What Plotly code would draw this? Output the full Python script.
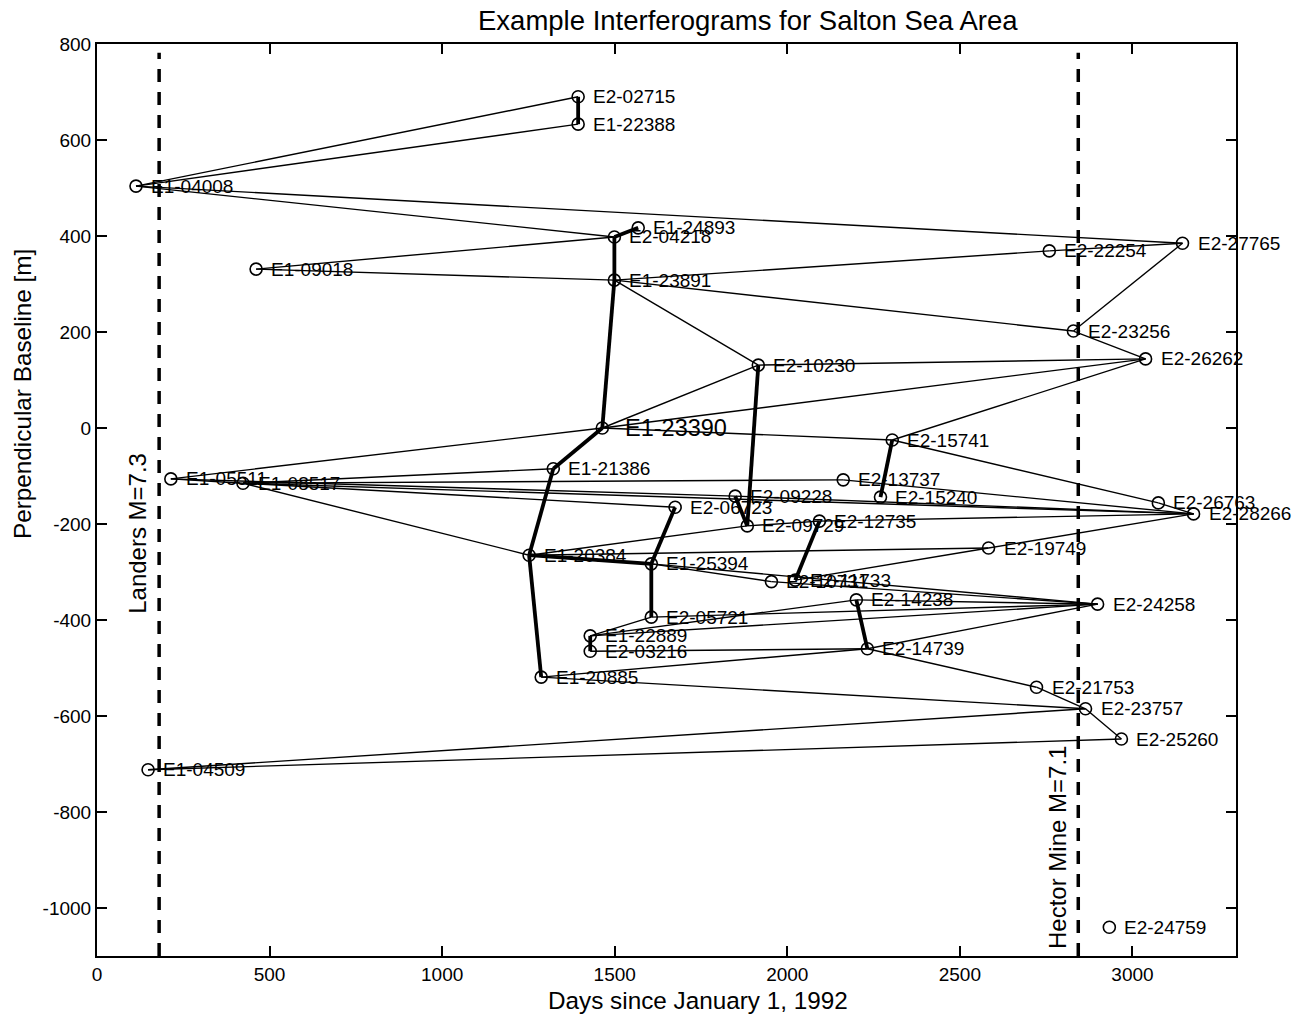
import plotly.graph_objects as go

# ---- data ----
names = ["E2-02715", "E1-22388", "E1-04008", "E1-24893", "E2-04218", "E1-09018",
         "E2-22254", "E2-27765", "E1-23891", "E2-23256", "E2-26262", "E2-10230",
         "E1-23390", "E2-15741", "E1-21386", "E1-05511", "E1-08517", "E2-13737",
         "E2-09228", "E2-15240", "E2-06723", "E2-09729", "E2-12735", "E2-26763",
         "E2-28266", "E2-19749", "E1-20384", "E1-25394", "E2-10731", "E2-11733",
         "E2-14238", "E2-24258", "E2-05721", "E1-22889", "E2-03216", "E2-14739",
         "E1-20885", "E2-21753", "E2-23757", "E2-25260", "E1-04509", "E2-24759"]
days = [1394, 1394, 113, 1568, 1499, 461,
        2759, 3145, 1499, 2829, 3038, 1916,
        1464, 2304, 1322, 214, 423, 2162,
        1849, 2270, 1675, 1884, 2093, 3075,
        3177, 2583, 1252, 1606, 1954, 2023,
        2200, 2899, 1606, 1429, 1429, 2232,
        1287, 2722, 2864, 2968, 148, 2933]
baselines = [690, 633, 504, 417, 398, 331,
             369, 385, 308, 202, 144, 131,
             0, -25, -85, -106, -115, -108,
             -142, -144, -165, -204, -194, -156,
             -179, -250, -265, -283, -320, -317,
             -358, -367, -394, -433, -465, -460,
             -519, -540, -585, -648, -712, -1040]

thin_pairs = [
    ("E1-04008", "E2-02715"), ("E1-04008", "E1-22388"), ("E1-04008", "E2-27765"),
    ("E1-04008", "E2-04218"), ("E1-09018", "E2-04218"), ("E1-09018", "E1-23891"),
    ("E1-23891", "E2-22254"), ("E2-22254", "E2-27765"), ("E2-23256", "E2-27765"),
    ("E1-23891", "E2-23256"), ("E1-23891", "E2-10230"), ("E2-23256", "E2-26262"),
    ("E2-10230", "E2-26262"), ("E1-23390", "E2-26262"), ("E2-15741", "E2-26262"),
    ("E2-10230", "E1-23390"), ("E1-23390", "E2-15741"), ("E1-05511", "E1-23390"),
    ("E2-15741", "E2-26763"), ("E2-26763", "E2-28266"), ("E1-08517", "E1-21386"),
    ("E1-08517", "E2-13737"), ("E1-05511", "E2-09228"), ("E1-08517", "E2-28266"),
    ("E1-08517", "E2-06723"), ("E1-08517", "E1-20384"), ("E1-05511", "E1-08517"),
    ("E2-13737", "E2-28266"), ("E2-09228", "E2-28266"), ("E2-09729", "E2-12735"),
    ("E2-12735", "E2-28266"), ("E2-19749", "E2-28266"), ("E1-20384", "E2-09729"),
    ("E1-20384", "E2-19749"), ("E2-11733", "E2-19749"), ("E1-25394", "E2-10731"),
    ("E2-10731", "E2-24258"), ("E1-25394", "E2-24258"), ("E2-05721", "E1-22889"),
    ("E2-05721", "E2-24258"), ("E1-22889", "E2-14238"), ("E2-14238", "E2-24258"),
    ("E1-22889", "E2-24258"), ("E2-03216", "E2-14739"), ("E2-14739", "E2-24258"),
    ("E2-14739", "E2-21753"), ("E1-20885", "E2-14739"), ("E1-20885", "E2-23757"),
    ("E2-21753", "E2-23757"), ("E2-23757", "E2-25260"), ("E1-04509", "E2-23757"),
    ("E1-04509", "E2-25260"),
]
thick_pairs = [
    ("E2-02715", "E1-22388"), ("E2-04218", "E1-24893"), ("E2-04218", "E1-23891"),
    ("E1-23891", "E1-23390"), ("E1-23390", "E1-21386"), ("E1-21386", "E1-20384"),
    ("E1-20384", "E1-20885"), ("E1-20384", "E1-25394"), ("E1-25394", "E2-05721"),
    ("E2-06723", "E1-25394"), ("E2-10230", "E2-09729"), ("E2-09228", "E2-09729"),
    ("E2-15741", "E2-15240"), ("E2-12735", "E2-11733"), ("E2-14238", "E2-14739"),
    ("E1-22889", "E2-03216"),
]
big_label = "E1-23390"

quakes_day = [180, 2843]
quake_text = ["Landers M=7.3", "Hector Mine M=7.1"]
quake_text_y = [-391, -1089]

x_ticks = [0, 500, 1000, 1500, 2000, 2500, 3000]
y_ticks = [-1000, -800, -600, -400, -200, 0, 200, 400, 600, 800]
y_tick_text = ["-1000", "-800", "-600", "-400", "-200", "0", "200", "400", "600", "800"]

FONT = "Liberation Sans, Arial, Helvetica, sans-serif"
pos = {n: (d, b) for n, d, b in zip(names, days, baselines)}


def seg(pairs):
    xs, ys = [], []
    for a, b in pairs:
        xs += [pos[a][0], pos[b][0], None]
        ys += [pos[a][1], pos[b][1], None]
    return xs, ys


fig = go.Figure()
tx, ty = seg(thin_pairs)
fig.add_trace(go.Scatter(x=tx, y=ty, mode="lines", line=dict(color="black", width=1.4),
                         hoverinfo="skip", showlegend=False))
kx, ky = seg(thick_pairs)
fig.add_trace(go.Scatter(x=kx, y=ky, mode="lines", line=dict(color="black", width=3.8),
                         hoverinfo="skip", showlegend=False))
for qd in quakes_day:
    fig.add_trace(go.Scatter(x=[qd, qd], y=[-1100, 782], mode="lines",
                             line=dict(color="black", width=3.5, dash="13px,10px"),
                             hoverinfo="skip", showlegend=False))
fig.add_trace(go.Scatter(x=days, y=baselines, mode="markers",
                         marker=dict(symbol="circle-open", size=12, color="black",
                                     line=dict(width=1.6, color="black")),
                         text=names, showlegend=False))

anns = []
for n, d, b in zip(names, days, baselines):
    big = n == big_label
    anns.append(dict(x=d, y=b, text=n, showarrow=False, xanchor="left", yanchor="middle",
                     xshift=21 if big else 13,
                     font=dict(size=23.5 if big else 19, color="black", family=FONT)))
for qd, qt, qy in zip(quakes_day, quake_text, quake_text_y):
    anns.append(dict(x=qd, y=qy, text=qt, showarrow=False, textangle=-90,
                     xanchor="right", yanchor="bottom", xshift=-6,
                     font=dict(size=24, color="black", family=FONT)))
# titles (centres measured on the reference)
anns.append(dict(x=(748 - 97) / 1139, y=1.0, xref="paper", yref="paper", yshift=24,
                 text="Example Interferograms for Salton Sea Area", showarrow=False,
                 xanchor="center", yanchor="middle",
                 font=dict(size=27.5, color="black", family=FONT)))
anns.append(dict(x=(698 - 97) / 1139, y=0.0, xref="paper", yref="paper", yshift=-44,
                 text="Days since January 1, 1992", showarrow=False,
                 xanchor="center", yanchor="middle",
                 font=dict(size=24.3, color="black", family=FONT)))
anns.append(dict(x=0.0, y=(956 - 394) / 912, xref="paper", yref="paper", xshift=-75,
                 text="Perpendicular Baseline [m]", showarrow=False, textangle=-90,
                 xanchor="center", yanchor="middle",
                 font=dict(size=24.3, color="black", family=FONT)))

fig.update_layout(
    width=1305, height=1014,
    margin=dict(l=97, r=69, t=44, b=58),
    paper_bgcolor="white", plot_bgcolor="white",
    font=dict(family=FONT, color="black", size=19),
    annotations=anns,
)
axis_common = dict(showgrid=False, zeroline=False, showline=True, linecolor="black",
                   linewidth=2, mirror="ticks", ticks="inside", ticklen=10,
                   tickwidth=1.5, tickcolor="black",
                   tickfont=dict(size=19, color="black", family=FONT))
fig.update_xaxes(range=[0, 3300], tickvals=x_ticks, **axis_common)
fig.update_yaxes(range=[-1100, 800], tickvals=y_ticks, ticktext=y_tick_text, **axis_common)

fig.write_html("out.html")
